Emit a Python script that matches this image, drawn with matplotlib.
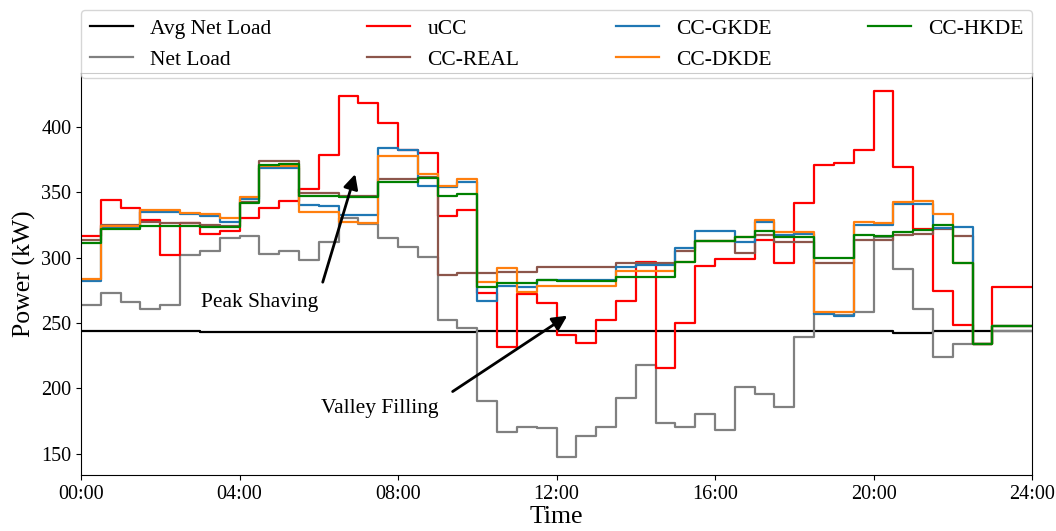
import numpy as np
import matplotlib
matplotlib.use("Agg")
import matplotlib.pyplot as plt

plt.rcParams['font.family'] = ['Liberation Serif', 'DejaVu Serif']

# 48 half-hour intervals over one day
hours = np.arange(49) * 0.5

avg_net_load = [243.8, 243.8, 243.8, 243.8, 243.8, 243.8, 242.9, 242.9, 242.9, 243.3,
                243.3, 243.3, 243.0, 243.0, 243.3, 243.3, 243.0, 243.0, 243.3, 243.3,
                243.6, 243.6, 243.6, 243.6, 243.6, 243.6, 243.6, 243.6, 243.8, 243.8,
                243.8, 243.8, 243.8, 243.8, 243.6, 243.6, 243.8, 243.8, 243.8, 243.8,
                243.6, 242.6, 242.6, 243.6, 243.6, 243.8, 243.8, 243.8]

net_load = [263.8, 273.2, 266.3, 260.7, 263.8, 302.0, 305.3, 314.8, 316.7, 302.8,
            305.0, 298.2, 312.2, 330.0, 325.7, 314.8, 307.9, 300.2, 252.3, 245.9,
            190.6, 166.4, 170.7, 169.5, 147.8, 163.6, 170.3, 192.4, 217.9, 173.8,
            170.3, 180.4, 168.2, 200.8, 195.7, 185.5, 239.5, 257.4, 256.1, 258.6,
            316.0, 291.0, 260.5, 224.3, 233.7, 233.7, 244.0, 244.0]

ucc = [316.7, 344.0, 337.7, 328.7, 301.8, 326.7, 318.0, 320.6, 330.0, 337.7,
       343.5, 352.4, 378.4, 423.5, 418.0, 403.0, 382.3, 380.2, 331.8, 336.4,
       273.2, 231.9, 272.2, 265.5, 240.8, 235.0, 252.3, 267.0, 296.9, 215.4,
       249.7, 293.6, 299.0, 298.7, 313.5, 296.0, 341.5, 370.8, 372.6, 381.8,
       426.9, 368.8, 321.6, 274.5, 248.5, 233.7, 277.8, 277.8]

cc_real = [313.5, 325.0, 325.0, 327.0, 326.4, 326.4, 325.0, 324.4, 342.6, 373.9,
           373.9, 349.1, 349.1, 347.3, 347.3, 360.1, 360.1, 361.4, 286.7, 288.5,
           288.5, 289.0, 289.0, 293.0, 293.0, 293.0, 293.0, 296.0, 296.0, 295.6,
           305.0, 312.7, 312.7, 303.3, 317.3, 311.7, 311.7, 296.1, 296.1, 313.5,
           313.2, 317.3, 318.0, 321.6, 316.5, 233.7, 247.7, 247.7]

cc_gkde = [282.1, 322.9, 322.9, 334.6, 334.6, 333.1, 331.8, 327.5, 344.8, 368.3,
           368.6, 340.2, 339.7, 332.6, 332.6, 383.5, 382.3, 354.7, 354.2, 358.0,
           267.0, 278.3, 277.8, 282.9, 282.9, 282.9, 282.9, 293.0, 294.3, 294.3,
           307.6, 320.6, 320.6, 311.5, 327.5, 317.3, 317.8, 256.9, 255.6, 325.0,
           325.0, 341.0, 341.0, 322.9, 323.6, 233.7, 247.7, 247.7]

cc_dkde = [283.4, 324.4, 324.4, 336.4, 336.4, 334.3, 333.1, 330.0, 346.1, 370.0,
           370.0, 334.6, 334.6, 327.5, 326.7, 377.9, 377.9, 363.6, 354.7, 359.9,
           281.6, 291.8, 273.9, 278.3, 278.5, 278.5, 278.5, 289.8, 289.8, 289.8,
           296.9, 312.7, 312.7, 316.0, 328.3, 319.8, 319.8, 258.6, 258.6, 327.5,
           326.7, 342.8, 343.5, 333.1, 295.6, 233.7, 247.7, 247.7]

cc_hkde = [311.0, 321.6, 321.6, 324.4, 324.4, 324.4, 323.6, 323.2, 342.0, 370.8,
           371.3, 347.3, 347.3, 346.1, 346.1, 357.6, 358.0, 360.6, 347.1, 348.6,
           277.8, 280.8, 280.8, 282.9, 282.1, 282.1, 282.1, 285.0, 285.0, 285.0,
           296.9, 312.7, 312.7, 316.0, 320.6, 315.5, 315.5, 299.4, 299.4, 317.3,
           316.5, 319.8, 321.1, 325.0, 295.6, 233.7, 247.7, 247.7]

labels = ["Avg Net Load", "Net Load", "uCC", "CC-REAL", "CC-GKDE", "CC-DKDE", "CC-HKDE"]
colors = ["black", "grey", "red", "tab:brown", "tab:blue", "tab:orange", "green"]
series = [avg_net_load, net_load, ucc, cc_real, cc_gkde, cc_dkde, cc_hkde]

xtick_pos = [0, 4, 8, 12, 16, 20, 24]
xtick_labels = ["00:00", "04:00", "08:00", "12:00", "16:00", "20:00", "24:00"]
ytick_pos = [150, 200, 250, 300, 350, 400]

fig = plt.figure(figsize=(10.56, 5.31), dpi=100)
ax = fig.add_axes([0.0767, 0.1055, 0.9006, 0.757])

for vals, lab, col in zip(series, labels, colors):
    y = list(vals) + [vals[-1]]
    ax.plot(hours, y, drawstyle='steps-post', color=col, lw=1.6, label=lab)

ax.set_xlim(0, 24)
ax.set_ylim(133.8, 441)
ax.set_xticks(xtick_pos)
ax.set_xticklabels(xtick_labels)
ax.set_yticks(ytick_pos)
ax.tick_params(labelsize=14.5)
ax.set_xlabel("Time", fontsize=18.5, labelpad=2)
ax.set_ylabel("Power (kW)", fontsize=18.5)

ax.text(4.51, 265.8, "Peak Shaving", fontsize=15.5, ha='center', va='center')
ax.annotate("", xy=(6.94, 365.8), xytext=(6.08, 279.1),
            arrowprops=dict(arrowstyle='-|>', color='black', lw=2, mutation_scale=22))
ax.text(7.55, 184.7, "Valley Filling", fontsize=15.5, ha='center', va='center')
ax.annotate("", xy=(12.33, 256.7), xytext=(9.32, 196.4),
            arrowprops=dict(arrowstyle='-|>', color='black', lw=2, mutation_scale=22))

ax.legend(loc='lower left', bbox_to_anchor=(0, 0.987, 1, 0.1), mode='expand',
          ncol=4, fontsize=15.5, borderaxespad=0, handlelength=2.0)

fig.savefig("out.png", dpi=100)
